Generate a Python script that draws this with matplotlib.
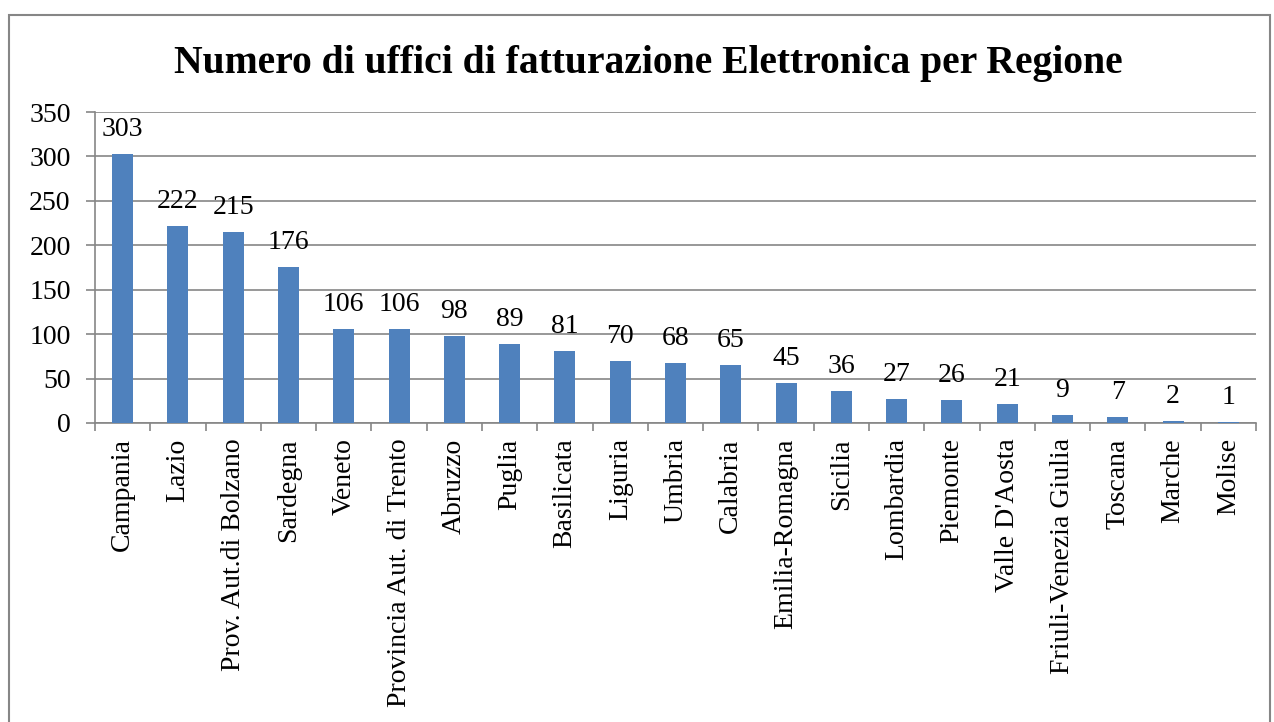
import matplotlib.pyplot as plt
import numpy as np
from matplotlib.patches import Rectangle

regioni = ["Campania", "Lazio", "Prov. Aut.di Bolzano", "Sardegna", "Veneto",
           "Provincia Aut. di Trento", "Abruzzo", "Puglia", "Basilicata", "Liguria",
           "Umbria", "Calabria", "Emilia-Romagna", "Sicilia", "Lombardia", "Piemonte",
           "Valle D'Aosta", "Friuli-Venezia Giulia", "Toscana", "Marche", "Molise"]
uffici = [303, 222, 215, 176, 106, 106, 98, 89, 81, 70, 68, 65, 45, 36, 27, 26, 21, 9, 7, 2, 1]
y_ticks = [0, 50, 100, 150, 200, 250, 300, 350]

plt.rcParams['font.family'] = ['Liberation Serif', 'DejaVu Serif']
W, H = 1274, 722
fig = plt.figure(figsize=(W / 100, H / 100), dpi=100)
ax = fig.add_axes([95 / W, 1 - 423 / H, (1256 - 95) / W, (423 - 112) / H])

grey = "#868686"
fs = 20
x = np.arange(len(regioni))
ax.bar(x, uffici, width=0.38, color="#4f81bd", zorder=3)
for xi, v in zip(x, uffici):
    ax.annotate(str(v), (xi, v), xytext=(0, 13), textcoords="offset points",
                ha="center", va="baseline", fontsize=fs)

ax.set_xlim(-0.5, len(regioni) - 0.5)
ax.set_ylim(0, 350)
ax.set_yticks(y_ticks)
ax.yaxis.grid(True, color=grey, lw=1.2, zorder=0)
ax.set_xticks(np.arange(-0.5, len(regioni)), minor=False)
ax.set_xticklabels([])
ax.set_xticks(x, minor=True)
ax.set_xticklabels(regioni, minor=True, rotation=90, fontsize=fs)
ax.tick_params(axis="x", which="minor", length=0, pad=11)
ax.tick_params(axis="x", which="major", length=6, width=1.2, color=grey)
ax.tick_params(axis="y", length=6.5, width=1.2, color=grey, labelsize=fs, pad=11)
for s in ["top", "right"]:
    ax.spines[s].set_visible(False)
for s in ["left", "bottom"]:
    ax.spines[s].set_color(grey)
    ax.spines[s].set_linewidth(1.2)

fig.text(648 / W, 1 - 63 / H, "Numero di uffici di fatturazione Elettronica per Regione",
         ha="center", va="center", fontsize=28.5, fontweight="bold")

fig.patches.append(Rectangle((9 / W, -0.01), (1270 - 9) / W, 1 - 15 / H + 0.01,
                             transform=fig.transFigure, fill=False, ec=grey, lw=1.5))

fig.savefig("out.png", dpi=100)
